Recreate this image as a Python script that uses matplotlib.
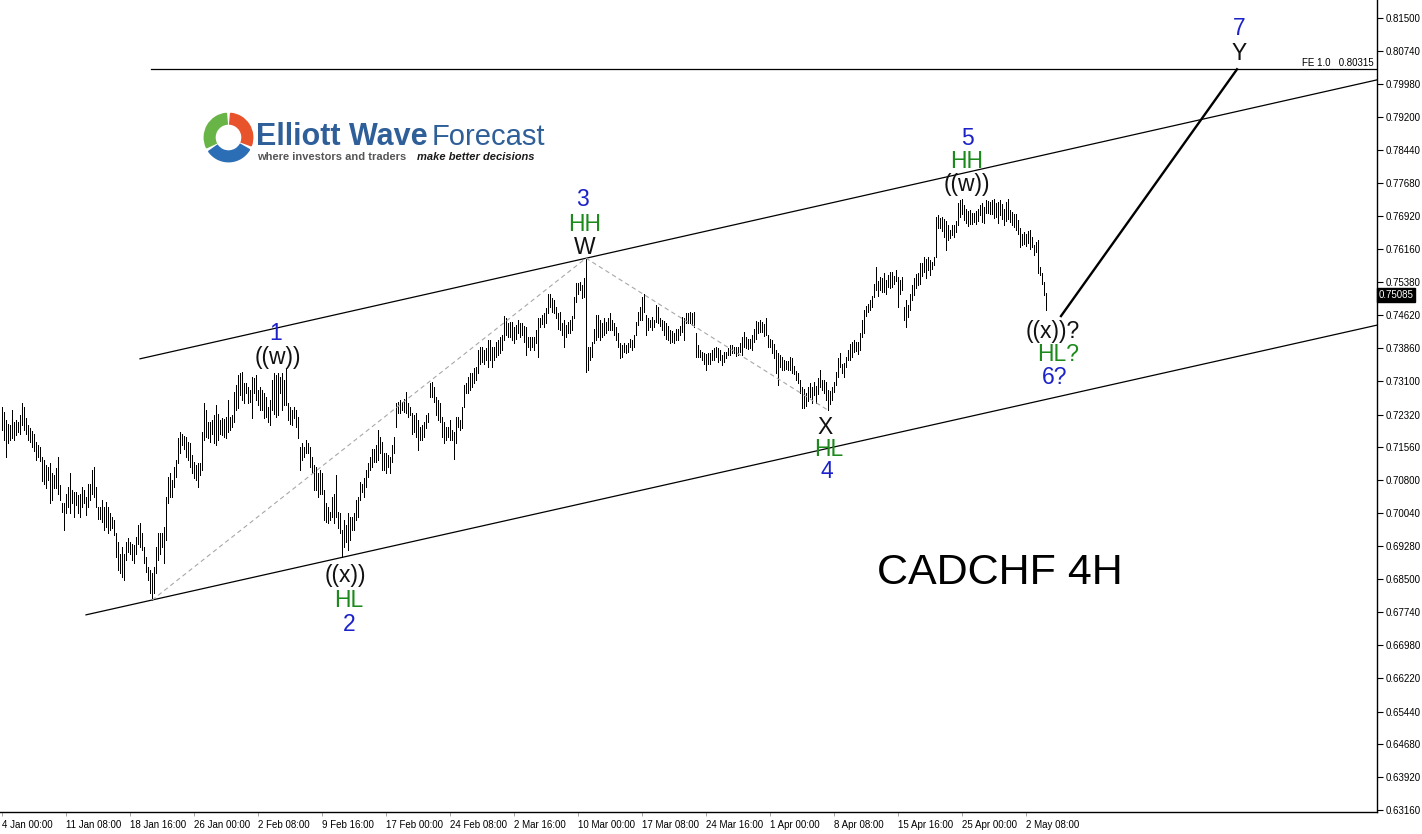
import matplotlib
matplotlib.use('Agg')
import numpy as np
import matplotlib.pyplot as plt
from matplotlib.patches import Wedge
from matplotlib.transforms import blended_transform_factory

plt.rcParams['font.family'] = ['Liberation Sans', 'DejaVu Sans']

# CADCHF 4H bars, highs and lows in pips (1e-4), one value per bar from 4 Jan 00:00
bar_highs = [
    7250, 7238, 7219, 7211, 7207, 7242, 7215, 7219, 7215, 7231,
    7258, 7250, 7223, 7207, 7200, 7194, 7187, 7169, 7161, 7156,
    7134, 7126, 7115, 7111, 7119, 7096, 7092, 7107, 7134, 7069,
    7026, 7026, 7049, 7065, 7096, 7057, 7053, 7053, 7045, 7049,
    7065, 7057, 7042, 7072, 7072, 7103, 7111, 7065, 7018, 7018,
    7034, 7018, 7030, 7018, 7003, 6995, 6988, 6957, 6937, 6910,
    6926, 6910, 6937, 6945, 6937, 6933, 6930, 6949, 6976, 6980,
    6957, 6926, 6903, 6879, 6872, 6864, 6879, 6926, 6957, 6957,
    6957, 6972, 7042, 7088, 7096, 7080, 7111, 7126, 7177, 7192,
    7188, 7182, 7179, 7169, 7165, 7138, 7123, 7115, 7119, 7119,
    7192, 7258, 7242, 7215, 7215, 7219, 7231, 7254, 7234, 7219,
    7223, 7221, 7227, 7265, 7227, 7231, 7285, 7300, 7323, 7327,
    7331, 7304, 7304, 7296, 7289, 7319, 7316, 7323, 7289, 7296,
    7289, 7281, 7273, 7250, 7265, 7312, 7327, 7323, 7327, 7319,
    7327, 7312, 7339, 7258, 7250, 7242, 7250, 7242, 7227,
    7157, 7165, 7157, 7173, 7165, 7157, 7134, 7115, 7111, 7096,
    7103, 7096, 7057, 7026, 7018, 7007, 7042, 7049, 7092, 7007,
    7003, 6964, 6988, 6976, 7003, 6995, 6995, 7003, 7034, 7042,
    7076, 7072, 7084, 7103, 7119, 7134, 7153, 7153, 7161, 7196,
    7180, 7169, 7142, 7142, 7138, 7134, 7161, 7180, 7258, 7262,
    7265, 7262, 7269, 7285, 7258, 7250, 7235, 7231, 7235, 7219,
    7204, 7208, 7215, 7231, 7235, 7304, 7308, 7296, 7273, 7265,
    7258, 7227, 7215, 7204, 7204, 7219, 7196, 7192, 7227, 7227,
    7219, 7250, 7300, 7304, 7319, 7327, 7327, 7339, 7343, 7381,
    7389, 7389, 7381, 7385, 7404, 7404, 7389, 7389, 7401, 7404,
    7412, 7416, 7460, 7455, 7443, 7447, 7447, 7435, 7439, 7451,
    7443, 7443, 7437, 7434, 7412, 7412, 7412, 7412, 7428, 7455,
    7455, 7462, 7466, 7478, 7512, 7512, 7501, 7497, 7482, 7466,
    7470, 7445, 7451, 7439, 7447, 7451, 7460, 7505, 7536, 7536,
    7540, 7532, 7547, 7594,
    7389, 7389, 7401, 7431, 7462, 7462, 7451, 7443, 7455, 7447,
    7455, 7466, 7451, 7445, 7435, 7421, 7397, 7393, 7397, 7393,
    7397, 7408, 7404, 7416, 7447, 7470, 7482, 7505, 7512, 7462,
    7455, 7452, 7458, 7452, 7485, 7482, 7455, 7451, 7449, 7445,
    7437, 7428, 7426, 7420, 7429, 7429, 7437, 7458, 7455, 7468,
    7466, 7470, 7466, 7470, 7420, 7393, 7381, 7377, 7374, 7372,
    7374, 7374, 7381, 7385, 7389, 7385, 7381, 7370, 7377, 7377,
    7385, 7393, 7393, 7389, 7389, 7389, 7397, 7412, 7424, 7411,
    7406, 7408, 7416, 7431, 7449, 7447, 7451, 7447, 7441, 7455,
    7416, 7408, 7404, 7395, 7381, 7374, 7370, 7366, 7358, 7357,
    7357, 7366, 7364, 7344, 7333, 7329, 7312, 7296, 7290, 7282,
    7295, 7304, 7296, 7308, 7298, 7316, 7335, 7312, 7313, 7308,
    7289, 7287, 7296, 7308, 7331, 7362, 7374, 7350, 7352, 7366,
    7381,
    7396, 7400, 7404, 7400, 7400, 7420, 7450, 7474, 7483, 7489,
    7497, 7506, 7535, 7574, 7542, 7551, 7547, 7559, 7543, 7555,
    7562, 7562, 7552, 7566, 7551, 7543, 7551, 7481, 7497, 7485,
    7512, 7531, 7547, 7557, 7559, 7582, 7583, 7597, 7593, 7597,
    7589, 7585, 7597, 7690, 7694, 7686, 7690, 7684, 7680, 7670,
    7659, 7670, 7670, 7680, 7721, 7728, 7732, 7717, 7707, 7704,
    7705, 7699, 7699, 7704, 7709, 7717, 7721, 7713, 7728, 7727,
    7724, 7728, 7732, 7722, 7724, 7728, 7719, 7707, 7724, 7730,
    7705, 7701, 7696, 7696, 7682, 7663, 7651, 7655, 7651, 7657,
    7659, 7643, 7624, 7632, 7636, 7574, 7559, 7539, 7514,
]
bar_lows = [
    7196, 7173, 7134, 7165, 7173, 7177, 7173, 7184, 7192, 7188,
    7207, 7196, 7188, 7173, 7169, 7156, 7148, 7126, 7134, 7125,
    7079, 7072, 7061, 7080, 7026, 7034, 7061, 7061, 7049, 7034,
    7007, 6964, 7003, 7018, 7003, 7026, 6995, 7022, 7003, 6995,
    7018, 7026, 6999, 7018, 7034, 7049, 7042, 7018, 6991, 6989,
    6984, 6964, 6972, 6957, 6964, 6968, 6953, 6903, 6872, 6864,
    6856, 6848, 6895, 6914, 6910, 6895, 6887, 6910, 6933, 6926,
    6918, 6887, 6868, 6848, 6818, 6802, 6818, 6864, 6895, 6910,
    6926, 6887, 6941, 7026, 7042, 7042, 7065, 7088, 7119, 7142,
    7161, 7153, 7134, 7126, 7111, 7096, 7084, 7080, 7065, 7092,
    7103, 7173, 7180, 7177, 7169, 7188, 7165, 7161, 7173, 7188,
    7184, 7179, 7177, 7192, 7196, 7204, 7215, 7242, 7246, 7277,
    7265, 7258, 7281, 7258, 7261, 7223, 7281, 7265, 7254, 7242,
    7242, 7223, 7227, 7215, 7207, 7242, 7234, 7227, 7231, 7281,
    7242, 7254, 7254, 7219, 7211, 7207, 7223, 7204, 7177,
    7103, 7126, 7134, 7142, 7142, 7111, 7096, 7057, 7057, 7042,
    7049, 7049, 6988, 6984, 6980, 6988, 6995, 6980, 6995, 6968,
    6957, 6903, 6926, 6937, 6918, 6941, 6964, 6964, 6988, 6995,
    7034, 7053, 7042, 7065, 7088, 7103, 7111, 7123, 7123, 7126,
    7142, 7103, 7103, 7096, 7111, 7096, 7123, 7142, 7204, 7235,
    7235, 7242, 7238, 7235, 7227, 7231, 7188, 7192, 7181, 7150,
    7173, 7173, 7181, 7200, 7215, 7273, 7273, 7262, 7231, 7219,
    7215, 7181, 7165, 7173, 7181, 7173, 7173, 7130, 7165, 7204,
    7196, 7200, 7250, 7281, 7281, 7289, 7296, 7304, 7312, 7327,
    7350, 7354, 7350, 7358, 7343, 7358, 7343, 7358, 7366, 7370,
    7374, 7381, 7404, 7416, 7412, 7412, 7404, 7397, 7408, 7420,
    7412, 7416, 7401, 7370, 7389, 7381, 7389, 7381, 7397, 7366,
    7435, 7441, 7435, 7443, 7466, 7482, 7470, 7466, 7455, 7429,
    7428, 7416, 7389, 7412, 7420, 7420, 7428, 7455, 7493, 7512,
    7520, 7501, 7505, 7331,
    7335, 7358, 7366, 7397, 7404, 7412, 7404, 7412, 7416, 7420,
    7428, 7428, 7428, 7416, 7404, 7389, 7362, 7366, 7377, 7374,
    7377, 7389, 7381, 7389, 7416, 7439, 7451, 7451, 7470, 7416,
    7428, 7434, 7428, 7434, 7447, 7443, 7437, 7428, 7416, 7406,
    7404, 7397, 7401, 7397, 7404, 7404, 7416, 7424, 7404, 7443,
    7443, 7443, 7439, 7434, 7366, 7366, 7366, 7358, 7350, 7335,
    7350, 7350, 7358, 7358, 7366, 7354, 7358, 7347, 7354, 7364,
    7370, 7370, 7374, 7374, 7367, 7370, 7377, 7370, 7389, 7387,
    7383, 7385, 7381, 7401, 7406, 7421, 7424, 7424, 7414, 7416,
    7389, 7389, 7375, 7362, 7327, 7300, 7343, 7335, 7335, 7338,
    7335, 7335, 7327, 7326, 7312, 7304, 7281, 7246, 7246, 7252,
    7264, 7273, 7258, 7277, 7259, 7279, 7296, 7289, 7282, 7265,
    7242, 7256, 7265, 7285, 7300, 7319, 7343, 7327, 7319, 7343,
    7358,
    7358, 7366, 7377, 7379, 7373, 7381, 7412, 7420, 7460, 7470,
    7474, 7481, 7505, 7520, 7506, 7520, 7516, 7516, 7512, 7528,
    7524, 7528, 7535, 7542, 7481, 7512, 7520, 7450, 7435, 7458,
    7474, 7497, 7508, 7526, 7531, 7535, 7552, 7562, 7549, 7566,
    7555, 7570, 7578, 7597, 7663, 7663, 7657, 7642, 7613, 7636,
    7640, 7647, 7643, 7655, 7670, 7690, 7697, 7682, 7676, 7668,
    7674, 7673, 7677, 7674, 7681, 7694, 7678, 7676, 7699, 7699,
    7697, 7696, 7688, 7690, 7676, 7694, 7684, 7670, 7681, 7684,
    7678, 7670, 7667, 7659, 7651, 7620, 7624, 7628, 7622, 7630,
    7616, 7619, 7601, 7609, 7559, 7555, 7534, 7508, 7474,
]

date_labels = ['4 Jan 00:00', '11 Jan 08:00', '18 Jan 16:00', '26 Jan 00:00',
               '2 Feb 08:00', '9 Feb 16:00', '17 Feb 00:00', '24 Feb 08:00',
               '2 Mar 16:00', '10 Mar 00:00', '17 Mar 08:00', '24 Mar 16:00',
               '1 Apr 00:00', '8 Apr 08:00', '15 Apr 16:00', '25 Apr 00:00',
               '2 May 08:00']
bars_per_label = 32

price_ticks = [0.81500, 0.80740, 0.79980, 0.79200, 0.78440, 0.77680, 0.76920,
               0.76160, 0.75380, 0.74620, 0.73860, 0.73100, 0.72320, 0.71560,
               0.70800, 0.70040, 0.69280, 0.68500, 0.67740, 0.66980, 0.66220,
               0.65440, 0.64680, 0.63920, 0.63160]
last_price = 0.75085
fe_level = 0.80315

# trend lines: (bar index list, price list)
lower_channel = ([42, 687.5], [0.6768, 0.7439])
upper_channel = ([69, 687.5], [0.7361, 0.8007])
projection = ([529.5, 617.5], [0.7460, fe_level])
swing_path = ([75, 292, 413], [0.6802, 0.7594, 0.7242])

BLUE = '#1c22c8'
GREEN = '#1b8a1b'
BLACK = '#111111'

# (bar index, price, text, colour)
wave_labels = [
    (137, 0.7419, '1', BLUE), (138, 0.7365, '((w))', BLACK),
    (171.5, 0.6858, '((x))', BLACK), (173.5, 0.6802, 'HL', GREEN), (173.5, 0.6745, '2', BLUE),
    (290, 0.7729, '3', BLUE), (291.5, 0.7671, 'HH', GREEN), (291.5, 0.7618, 'W', BLACK),
    (411.5, 0.7203, 'X', BLACK), (413.5, 0.7152, 'HL', GREEN), (412.5, 0.7099, '4', BLUE),
    (482.5, 0.7872, '5', BLUE), (482.5, 0.7819, 'HH', GREEN), (482.5, 0.7764, '((w))', BLACK),
    (525.5, 0.7425, '((x))?', BLACK), (528, 0.7370, 'HL?', GREEN), (526.5, 0.7317, '6?', BLUE),
    (618.5, 0.8127, '7', BLUE), (618.5, 0.8069, 'Y', BLACK),
]

W, H = 1422, 834
fig = plt.figure(figsize=(W / 100, H / 100), dpi=100)
ax = fig.add_axes([0, 22 / H, 1377 / W, 812 / H])

highs = np.array(bar_highs) / 10000
lows = np.array(bar_lows) / 10000
idx = np.arange(len(highs))
ax.vlines(idx, lows, highs, color='black', linewidth=0.72, antialiased=False)

ax.plot(*lower_channel, color='black', lw=0.9)
ax.plot(*upper_channel, color='black', lw=0.9)
ax.plot(*projection, color='black', lw=1.7)
ax.plot(*swing_path, color='#a8a8a8', lw=0.8, ls=(0, (4, 3)))
ax.plot([74.5, 687.5], [fe_level, fe_level], color='black', lw=0.9)
ax.text(686, fe_level + 0.0004, 'FE 1.0   0.80315', ha='right', va='bottom', fontsize=7)

for xi, yi, txt, col in wave_labels:
    ax.text(xi, yi, txt, color=col, fontsize=16.5, ha='center', va='center')
ax.text(499, 0.6865, 'CADCHF 4H', fontsize=31, ha='center', va='center', color='black')

ax.set_xlim(-1, 687.5)
ax.set_ylim(0.63114, 0.81920)
for s in ['top', 'left']:
    ax.spines[s].set_visible(False)
ax.spines['right'].set_linewidth(1.0)
ax.spines['bottom'].set_linewidth(1.0)

ax.yaxis.tick_right()
ax.set_yticks(price_ticks)
ax.set_yticklabels([f'{v:.5f}' for v in price_ticks])
ax.tick_params(axis='y', length=4, width=0.8, pad=2, labelsize=7)

ax.set_xticks(np.arange(len(date_labels)) * bars_per_label)
ax.set_xticklabels(date_labels)
for lab in ax.get_xticklabels():
    lab.set_ha('left')
ax.tick_params(axis='x', length=3, width=0.6, pad=3, labelsize=7, color='#999999')

trans = blended_transform_factory(ax.transAxes, ax.transData)
ax.text(1.001, last_price, f'{last_price:.5f}', transform=trans, color='white', fontsize=7,
        ha='left', va='center', bbox=dict(facecolor='black', edgecolor='black', pad=1.2))

# logo
logo = fig.add_axes([203 / W, 1 - 163 / H, 51 / W, 51 / H])
logo.set_xlim(-1, 1)
logo.set_ylim(-1, 1)
logo.set_aspect('equal')
logo.axis('off')
logo.add_patch(Wedge((0, 0), 0.95, 95, 205, width=0.42, color='#69b446'))
logo.add_patch(Wedge((0, 0), 0.95, 215, 330, width=0.42, color='#2c6eb5'))
logo.add_patch(Wedge((0, 0), 0.95, -20, 85, width=0.42, color='#e8532b'))

fig.text(256 / W, 1 - 145 / H, 'Elliott Wave', fontsize=22, fontweight='bold', color='#2f5f98')
fig.text(432 / W, 1 - 145 / H, 'Forecast', fontsize=21, color='#2f5f98')
fig.text(257 / W, 1 - 160 / H, 'where investors and traders', fontsize=8, fontweight='bold',
         color='#555555')
fig.text(417 / W, 1 - 160 / H, 'make better decisions', fontsize=8, fontweight='bold',
         style='italic', color='#1a1a1a')

fig.savefig('out.png', dpi=100)
